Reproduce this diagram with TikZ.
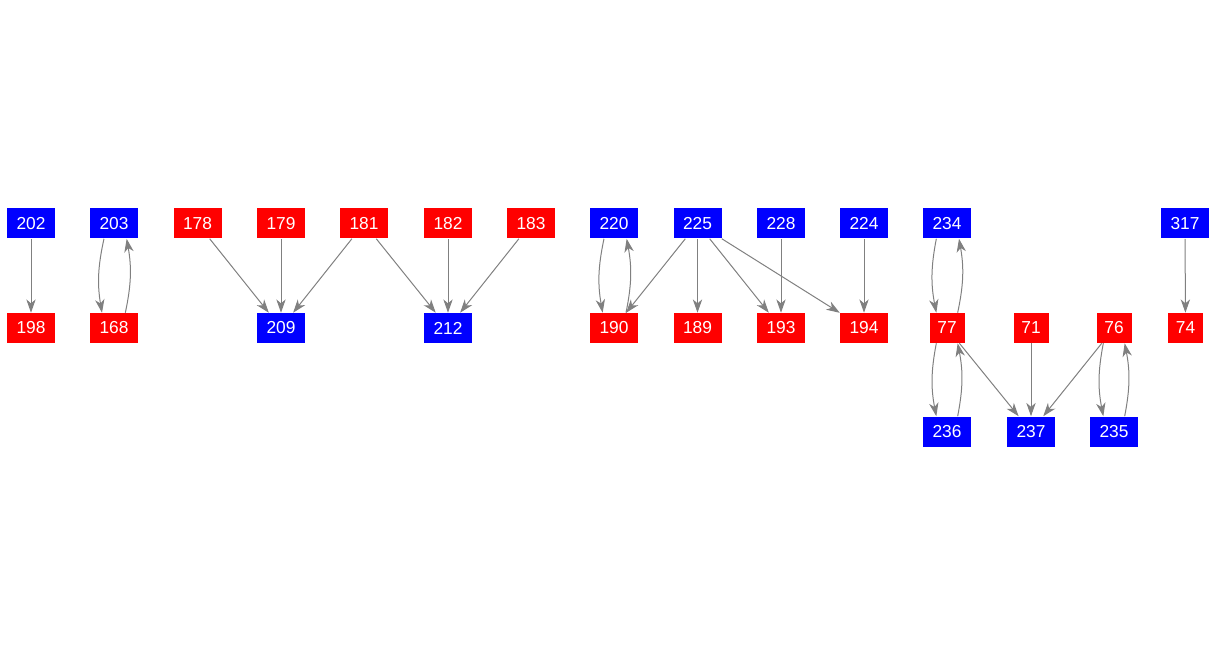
\documentclass[tikz,border=0pt]{standalone}
\usepackage{fontspec}
\setmainfont{Liberation Sans}
\usetikzlibrary{arrows.meta}
\definecolor{edgegray}{RGB}{128,128,128}
\begin{document}
\begin{tikzpicture}[
    x=0.75pt, y=0.75pt,
    font=\fontsize{13}{15}\selectfont,
    box/.style={inner sep=0pt, minimum width=36pt, minimum height=22.5pt, text=white},
    bnode/.style={box, fill=blue},
    rnode/.style={box, fill=red},
    narrow/.style={minimum width=26.25pt},
    edge/.style={-{Stealth[length=10pt, width=7pt, inset=3pt]}, draw=edgegray, line width=0.75pt},
    curve/.style={edge, bend right=11}
]
\useasboundingbox (0,0) rectangle (1218,-656);
% top row
\node[bnode] (n202) at (31,-223.5) {202};
\node[bnode] (n203) at (114,-223.5) {203};
\node[rnode] (n178) at (197.5,-223.5) {178};
\node[rnode] (n179) at (281,-223.5) {179};
\node[rnode] (n181) at (364,-223.5) {181};
\node[rnode] (n182) at (448,-223.5) {182};
\node[rnode] (n183) at (531,-223.5) {183};
\node[bnode] (n220) at (614,-223.5) {220};
\node[bnode] (n225) at (697.5,-223.5) {225};
\node[bnode] (n228) at (781,-223.5) {228};
\node[bnode] (n224) at (864,-223.5) {224};
\node[bnode] (n234) at (947,-223.5) {234};
\node[bnode] (n317) at (1185,-223.5) {317};
% middle row
\node[rnode] (n198) at (31,-328) {198};
\node[rnode] (n168) at (114,-328) {168};
\node[bnode] (n209) at (281,-328) {209};
\node[bnode] (n212) at (448,-328) {212};
\node[rnode] (n190) at (614,-328) {190};
\node[rnode] (n189) at (697.5,-328) {189};
\node[rnode] (n193) at (781,-328) {193};
\node[rnode] (n194) at (864,-328) {194};
\node[rnode, narrow] (n77) at (947,-328) {77};
\node[rnode, narrow] (n71) at (1031,-328) {71};
\node[rnode, narrow] (n76) at (1114,-328) {76};
\node[rnode, narrow] (n74) at (1185.5,-328) {74};
% bottom row
\node[bnode] (n236) at (947,-431.5) {236};
\node[bnode] (n237) at (1031,-431.5) {237};
\node[bnode] (n235) at (1114,-431.5) {235};
% edges
\draw[edge] (n202) -- (n198);
\draw[curve] ([xshift=-7.5pt]n203.south) to ([xshift=-9pt]n168.north);
\draw[curve] ([xshift=8.5pt]n168.north) to ([xshift=9.5pt]n203.south);
\draw[edge] (n178) -- (n209);
\draw[edge] (n179) -- (n209);
\draw[edge] (n181) -- (n209);
\draw[edge] (n181) -- (n212);
\draw[edge] (n182) -- (n212);
\draw[edge] (n183) -- (n212);
\draw[curve] ([xshift=-7.5pt]n220.south) to ([xshift=-8.5pt]n190.north);
\draw[curve] ([xshift=9pt]n190.north) to ([xshift=9.5pt]n220.south);
\draw[edge] (n225) -- (n190);
\draw[edge] (n225) -- (n189);
\draw[edge] (n225) -- (n193);
\draw[edge] (n225) -- (n194);
\draw[edge] (n228) -- (n193);
\draw[edge] (n224) -- (n194);
\draw[curve] ([xshift=-8pt]n234.south) to ([xshift=-8pt]n77.north);
\draw[curve] ([xshift=8pt]n77.north) to ([xshift=9pt]n234.south);
\draw[curve] ([xshift=-8pt]n77.south) to ([xshift=-8pt]n236.north);
\draw[curve] ([xshift=8pt]n236.north) to ([xshift=8pt]n77.south);
\draw[edge] (n77) -- (n237);
\draw[edge] (n71) -- (n237);
\draw[edge] (n76) -- (n237);
\draw[curve] ([xshift=-8pt]n76.south) to ([xshift=-8pt]n235.north);
\draw[curve] ([xshift=8pt]n235.north) to ([xshift=8pt]n76.south);
\draw[edge] (n317) -- (n74);
\end{tikzpicture}
\end{document}
